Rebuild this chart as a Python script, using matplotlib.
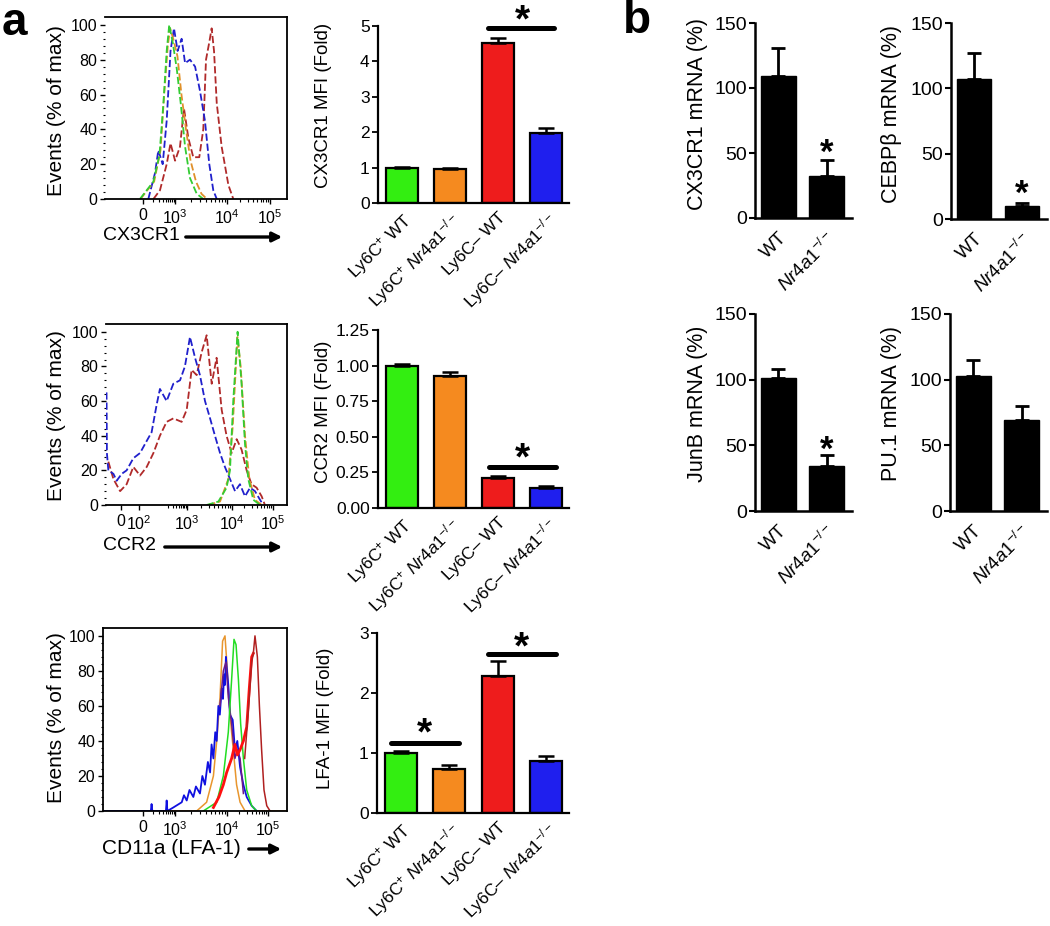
import matplotlib
matplotlib.use('Agg')
import math
import matplotlib.pyplot as plt
from matplotlib.ticker import FixedLocator

plt.rcParams['font.family'] = ['Liberation Sans', 'DejaVu Sans']
plt.rcParams['mathtext.fontset'] = 'custom'
plt.rcParams['mathtext.rm'] = 'Liberation Sans'
plt.rcParams['mathtext.it'] = 'Liberation Sans:italic'
plt.rcParams['mathtext.bf'] = 'Liberation Sans:bold'
plt.rcParams['axes.linewidth'] = 1.3

W, H = 1050, 926

# ---------------------------------------------------------------- data
group_labels = ['Ly6C$^{+}$ WT', 'Ly6C$^{+}$ $\\it{Nr4a1}^{-/-}$',
                'Ly6C– WT', 'Ly6C– $\\it{Nr4a1}^{-/-}$']
group_colors = ['#33ee11', '#f58a1f', '#ee1c1c', '#1f1fee']

cx3cr1_mfi = [1.00, 0.97, 4.53, 1.97]
cx3cr1_mfi_err = [0.02, 0.02, 0.14, 0.15]
ccr2_mfi = [1.00, 0.927, 0.208, 0.143]
ccr2_mfi_err = [0.01, 0.027, 0.02, 0.012]
lfa1_mfi = [1.00, 0.733, 2.28, 0.872]
lfa1_mfi_err = [0.03, 0.07, 0.25, 0.08]

genotype_labels = ['WT', '$\\it{Nr4a1}^{-/-}$']
cx3cr1_mrna = [109, 32.5]
cx3cr1_mrna_err = [22, 12]
cebpb_mrna = [107, 10]
cebpb_mrna_err = [20, 2]
junb_mrna = [101, 34]
junb_mrna_err = [7, 8.5]
pu1_mrna = [103, 69]
pu1_mrna_err = [12, 11]

# histogram curves: x = channel (% of axis width), y = % of max
h1_green_x = [19.2, 26.6, 29.9, 32.1, 33.9, 35.3, 37.2, 39.4, 41.6, 44.0, 46.7, 50.4, 54.0]
h1_green_y = [0, 10, 25, 55, 85, 100, 90, 75, 55, 30, 12, 3, 0]
h1_orange_x = [19.5, 27.0, 30.5, 32.5, 34.5, 35.8, 37.5, 39.8, 42.0, 44.5, 47.0, 50.0, 53.0, 56.0]
h1_orange_y = [0, 10, 28, 60, 88, 98, 92, 82, 60, 40, 22, 10, 3, 0]
h1_blue_x = [23.8, 27.5, 29.3, 31.7, 33.9, 36.0, 37.9, 39.9, 42.1, 44.0, 46.7, 49.5, 52.2, 54.9, 57.3, 59.5, 61.4]
h1_blue_y = [0, 15, 28, 20, 45, 85, 98, 85, 92, 78, 80, 76, 62, 45, 20, 5, 0]
h1_red_x = [26.6, 30.2, 33.9, 36.0, 38.5, 41.2, 43.4, 45.8, 48.5, 51.8, 54.0, 55.5, 57.3, 58.6, 59.9, 61.4, 64.1, 67.8, 70.5]
h1_red_y = [0, 5, 20, 32, 22, 30, 52, 35, 24, 24, 40, 80, 90, 98, 85, 55, 30, 8, 0]
h1_tick_pos = [20.9, 38.5, 67.0, 90.7]
h1_tick_labels = ['0', '$10^{3}$', '$10^{4}$', '$10^{5}$']

h2_blue_x = [0.3, 0.5, 1.3, 4.1, 5.9, 8.7, 11.4, 15.1, 18.8, 22.5, 25.2, 28.0, 29.8, 33.5, 37.2, 40.9,
             43.6, 46.4, 49.2, 51.9, 54.7, 57.5, 60.2, 63.0, 65.7, 68.5, 71.3, 74.0, 76.8, 79.6, 82.3, 85.1, 86.9]
h2_blue_y = [65, 30, 20, 18, 14, 18, 20, 27, 30, 37, 42, 58, 67, 60, 70, 72,
             80, 97, 85, 75, 60, 50, 40, 30, 22, 15, 8, 12, 5, 10, 8, 3, 0]
h2_red_x = [1.3, 4.1, 7.8, 11.4, 15.1, 18.8, 22.5, 26.2, 29.8, 33.5, 37.2, 41.8, 44.6, 47.3, 50.1, 52.8,
            55.6, 58.4, 61.1, 63.9, 66.6, 69.4, 72.2, 74.9, 77.7, 80.4, 83.2, 86.0, 87.8]
h2_red_y = [25, 15, 8, 12, 22, 17, 22, 30, 40, 48, 50, 48, 55, 78, 75, 88,
            98, 70, 85, 55, 40, 30, 38, 32, 20, 12, 10, 5, 0]
h2_green_x = [55.6, 62.1, 66.6, 68.5, 70.3, 72.7, 74.9, 76.8, 78.6, 81.4, 85.1]
h2_green_y = [0, 2, 10, 20, 60, 100, 70, 35, 15, 3, 0]
h2_orange_x = [56.5, 63.0, 67.6, 70.0, 72.6, 74.4, 76.8, 79.2, 82.3, 86.0]
h2_orange_y = [0, 2, 15, 45, 97, 80, 40, 15, 3, 0]
h2_tick_pos = [8.3, 18.2, 44.8, 69.6, 92.3]
h2_tick_labels = ['0', '$10^{2}$', '$10^{3}$', '$10^{4}$', '$10^{5}$']

h3_blue_x = [0, 26.0, 26.4, 26.8, 34.2, 34.6, 35.0, 38.2, 42.8, 44.0, 45.5, 47.0, 49.1, 50.5, 52.7, 54.0,
             55.4, 57.0, 58.2, 59.0, 60.0, 61.0, 61.8, 62.7, 63.5, 64.5, 65.2, 65.8, 66.3, 66.8, 67.4,
             68.1, 69.0, 70.5, 71.7, 73.0, 74.5, 76.3, 78.1, 80.8, 83.5]
h3_blue_y = [0, 0, 4, 0, 0, 6, 0, 2, 5, 9, 6, 12, 8, 14, 10, 20,
             15, 28, 22, 38, 30, 45, 40, 60, 55, 70, 64, 78, 72, 88, 80,
             72, 55, 52, 35, 40, 25, 15, 8, 3, 0]
h3_orange_x = [0, 50.9, 56.3, 60.0, 61.8, 63.6, 65.0, 66.3, 67.6, 69.0, 70.8, 72.6, 74.5, 77.2, 100]
h3_orange_y = [0, 0, 5, 20, 40, 65, 97, 100, 80, 55, 35, 15, 5, 0, 0]
h3_green_x = [54.5, 61.8, 65.4, 68.1, 69.9, 71.2, 72.3, 73.6, 74.8, 76.3, 78.1, 80.8, 83.5]
h3_green_y = [0, 5, 20, 45, 75, 98, 95, 75, 50, 30, 12, 3, 0]
h3_purple_x = [63.6, 65.4, 66.8, 68.1, 69.9, 71.7, 73.0, 74.5, 76.3]
h3_purple_y = [60, 80, 85, 65, 50, 30, 35, 30, 10]
h3_brightred_x = [60.0, 63.0, 65.4, 67.2, 69.9, 71.7, 73.0, 74.5, 76.3, 78.1, 79.5, 80.8, 81.7]
h3_brightred_y = [2, 8, 15, 22, 30, 38, 32, 35, 40, 48, 70, 88, 90]
h3_darkred_x = [77.0, 78.1, 79.5, 80.8, 81.7, 82.6, 83.9, 85.0, 86.2, 87.5, 89.0, 90.8]
h3_darkred_y = [30, 45, 65, 85, 90, 100, 88, 60, 35, 12, 3, 0]
h3_tick_pos = [21.7, 39.1, 67.4, 89.7]
h3_tick_labels = ['0', '$10^{3}$', '$10^{4}$', '$10^{5}$']

# ---------------------------------------------------------------- helpers
def fx(px):
    return px / W

def fy(py):
    return 1 - py / H

def add_axes(left, top, right, bottom):
    return fig.add_axes([fx(left), fy(bottom), (right - left) / W, (bottom - top) / H])

def minor_positions(major):
    dec = [p for p in major[-3:]]
    out = []
    for a, b in zip(dec[:-1], dec[1:]):
        for m in range(2, 10):
            out.append(a + math.log10(m) * (b - a))
    a, b = dec[0] - (dec[1] - dec[0]) * 0.6, dec[0]
    for m in range(2, 10):
        out.append(a + math.log10(m) * (b - a))
    return [p for p in out if 0 < p < 100]

def setup_hist(ax, ticks, labels, left_spine):
    ax.set_xlim(0, 100)
    ax.set_ylim(0, 104.5)
    ax.spines['left'].set_visible(left_spine)
    ax.xaxis.set_major_locator(FixedLocator(ticks))
    ax.set_xticklabels(labels, fontsize=11.5)
    ax.xaxis.set_minor_locator(FixedLocator(minor_positions(ticks)))
    ax.set_yticks([0, 20, 40, 60, 80, 100])
    ax.set_yticklabels(['0', '20', '40', '60', '80', '100'], fontsize=11.5)
    ax.yaxis.set_minor_locator(FixedLocator(list(range(4, 104, 4))))
    ax.tick_params(axis='both', which='major', direction='out', length=3.5, width=1.0, pad=2)
    ax.tick_params(axis='both', which='minor', direction='out', length=1.8, width=0.8)
    ax.tick_params(axis='x', which='major', pad=3)
    ax.tick_params(top=False, right=False)

def star(ax, x, y, fs):
    ax.annotate('*', (x, y), xytext=(0, -4.5), textcoords='offset points', ha='center', va='center',
                fontsize=fs, fontweight='bold', annotation_clip=False)

def sig_line(ax, x0, x1, y):
    ax.plot([x0, x1], [y, y], color='black', lw=3.6, solid_capstyle='round', clip_on=False)

def setup_bar(ax, ticks, ticklabels, ylim):
    for s in ('top', 'right'):
        ax.spines[s].set_visible(False)
    ax.spines['left'].set_linewidth(1.6)
    ax.spines['bottom'].set_linewidth(1.6)
    ax.set_ylim(*ylim)
    ax.set_yticks(ticks)
    ax.set_yticklabels(ticklabels, fontsize=12.5)
    ax.tick_params(axis='y', direction='out', length=4, width=1.3, pad=2)
    ax.tick_params(axis='x', length=0, pad=5)

def group_bars(ax, vals, errs):
    xs = list(range(len(vals)))
    ax.bar(xs, vals, width=0.667, color=group_colors, edgecolor='black', linewidth=1.6, zorder=2)
    ax.errorbar(xs, vals, yerr=[[0] * len(vals), errs], fmt='none', ecolor='black',
                elinewidth=1.8, capsize=6, capthick=1.8, zorder=3)
    ax.set_xlim(-0.5, 3.48)
    ax.set_xticks(xs)
    ax.set_xticklabels(group_labels, rotation=45, ha='right', rotation_mode='anchor', fontsize=12.5)

def geno_bars(ax, vals, errs):
    xs = list(range(len(vals)))
    ax.bar(xs, vals, width=0.72, color='black', edgecolor='black', linewidth=1.0, zorder=2)
    ax.errorbar(xs, vals, yerr=[[0] * len(vals), errs], fmt='none', ecolor='black',
                elinewidth=2.0, capsize=5, capthick=2.0, zorder=3)
    ax.set_xlim(-0.48, 1.52)
    ax.set_xticks(xs)
    ax.set_xticklabels(genotype_labels, rotation=45, ha='right', rotation_mode='anchor', fontsize=13.5)
    for s in ('top', 'right'):
        ax.spines[s].set_visible(False)
    ax.spines['left'].set_linewidth(1.8)
    ax.spines['bottom'].set_linewidth(1.8)
    ax.set_ylim(0, 150)
    ax.set_yticks([0, 50, 100, 150])
    ax.set_yticklabels(['0', '50', '100', '150'], fontsize=14)
    ax.tick_params(axis='y', direction='out', length=4, width=1.5, pad=2)
    ax.tick_params(axis='x', length=0, pad=8)

def xlabel_arrow(text, x_text, y, x_a0, x_a1, fs=14):
    fig.text(fx(x_text), fy(y), text, ha='left', va='center', fontsize=fs)
    fig.add_artist(matplotlib.patches.FancyArrowPatch(
        (fx(x_a0), fy(y + 1)), (fx(x_a1), fy(y + 1)), transform=fig.transFigure,
        arrowstyle='-|>', mutation_scale=14, lw=2.4, color='black'))

# ---------------------------------------------------------------- figure
fig = plt.figure(figsize=(W / 100, H / 100), dpi=100)

dash = (0, (4, 1.6))
# histogram 1: CX3CR1
ax = add_axes(105, 17, 287, 199)
ax.plot(h1_red_x, h1_red_y, color='#b02a2a', ls=dash, lw=1.3)
ax.plot(h1_blue_x, h1_blue_y, color='#2020cc', ls=dash, lw=1.3)
ax.plot(h1_orange_x, h1_orange_y, color='#e0902a', ls=dash, lw=1.3)
ax.plot(h1_green_x, h1_green_y, color='#33cc33', ls=dash, lw=1.3)
setup_hist(ax, h1_tick_pos, h1_tick_labels, False)
fig.text(fx(56), fy(111), 'Events (% of max)', rotation=90, ha='center', va='center', fontsize=15)
xlabel_arrow('CX3CR1', 103, 236, 183, 285)

# histogram 2: CCR2
ax = add_axes(106, 324, 287, 505)
ax.plot(h2_red_x, h2_red_y, color='#b02a2a', ls=dash, lw=1.3)
ax.plot(h2_blue_x, h2_blue_y, color='#2020cc', ls=dash, lw=1.3)
ax.plot(h2_orange_x, h2_orange_y, color='#e0902a', ls=dash, lw=1.3)
ax.plot(h2_green_x, h2_green_y, color='#33cc33', ls=dash, lw=1.3)
setup_hist(ax, h2_tick_pos, h2_tick_labels, False)
fig.text(fx(56), fy(416), 'Events (% of max)', rotation=90, ha='center', va='center', fontsize=15)
xlabel_arrow('CCR2', 103, 546, 162, 285)

# histogram 3: CD11a
ax = add_axes(103, 628, 287, 811)
ax.plot(h3_orange_x, h3_orange_y, color='#e8962e', lw=1.1)
ax.plot(h3_blue_x, h3_blue_y, color='#1010e0', lw=1.3)
ax.plot(h3_purple_x, h3_purple_y, color='#6a1a8a', lw=1.1)
ax.plot(h3_green_x, h3_green_y, color='#22dd22', lw=1.1)
ax.plot(h3_brightred_x, h3_brightred_y, color='#ff1010', lw=2.0)
ax.plot(h3_darkred_x, h3_darkred_y, color='#b02020', lw=1.1)
setup_hist(ax, h3_tick_pos, h3_tick_labels, True)
fig.text(fx(56), fy(718), 'Events (% of max)', rotation=90, ha='center', va='center', fontsize=15)
xlabel_arrow('CD11a (LFA-1)', 102, 848, 246, 284, fs=15)

# bar 1: CX3CR1 MFI
ax = add_axes(378, 26, 569, 203)
group_bars(ax, cx3cr1_mfi, cx3cr1_mfi_err)
setup_bar(ax, [0, 1, 2, 3, 4, 5], ['0', '1', '2', '3', '4', '5'], (0, 5))
sig_line(ax, 1.8, 3.17, 4.95)
star(ax, 2.5, 5.3, 28)
fig.text(fx(323), fy(105), 'CX3CR1 MFI (Fold)', rotation=90, ha='center', va='center', fontsize=13.5)

# bar 2: CCR2 MFI
ax = add_axes(378, 330, 569, 508)
group_bars(ax, ccr2_mfi, ccr2_mfi_err)
setup_bar(ax, [0, 0.25, 0.5, 0.75, 1.0, 1.25], ['0.00', '0.25', '0.50', '0.75', '1.00', '1.25'], (0, 1.25))
sig_line(ax, 1.81, 3.21, 0.288)
star(ax, 2.5, 0.385, 28)
fig.text(fx(323), fy(412), 'CCR2 MFI (Fold)', rotation=90, ha='center', va='center', fontsize=13.5)

# bar 3: LFA-1 MFI
ax = add_axes(377, 633, 569, 813)
group_bars(ax, lfa1_mfi, lfa1_mfi_err)
setup_bar(ax, [0, 1, 2, 3], ['0', '1', '2', '3'], (0, 3))
sig_line(ax, -0.21, 1.19, 1.17)
star(ax, 0.49, 1.42, 28)
sig_line(ax, 1.81, 3.21, 2.65)
star(ax, 2.5, 2.85, 28)
fig.text(fx(325), fy(718), 'LFA-1 MFI (Fold)', rotation=90, ha='center', va='center', fontsize=13.5)

# panel b
ax = add_axes(755, 23, 852, 218)
geno_bars(ax, cx3cr1_mrna, cx3cr1_mrna_err)
star(ax, 1, 54.6, 25)
fig.text(fx(697), fy(114), 'CX3CR1 mRNA (%)', rotation=90, ha='center', va='center', fontsize=15.5)

ax = add_axes(951, 23, 1047, 219)
geno_bars(ax, cebpb_mrna, cebpb_mrna_err)
star(ax, 1, 23.8, 25)
fig.text(fx(892), fy(114), 'CEBPβ mRNA (%)', rotation=90, ha='center', va='center', fontsize=15.5)

ax = add_axes(755, 314, 852, 511)
geno_bars(ax, junb_mrna, junb_mrna_err)
star(ax, 1, 51, 25)
fig.text(fx(697), fy(404), 'JunB mRNA (%)', rotation=90, ha='center', va='center', fontsize=15.5)

ax = add_axes(950, 314, 1047, 511)
geno_bars(ax, pu1_mrna, pu1_mrna_err)
fig.text(fx(892), fy(403), 'PU.1 mRNA (%)', rotation=90, ha='center', va='center', fontsize=15.5)

fig.text(fx(2), fy(35), 'a', fontsize=33, fontweight='bold', ha='left', va='baseline')
fig.text(fx(623), fy(33), 'b', fontsize=33, fontweight='bold', ha='left', va='baseline')

fig.savefig('out.png', dpi=100)
